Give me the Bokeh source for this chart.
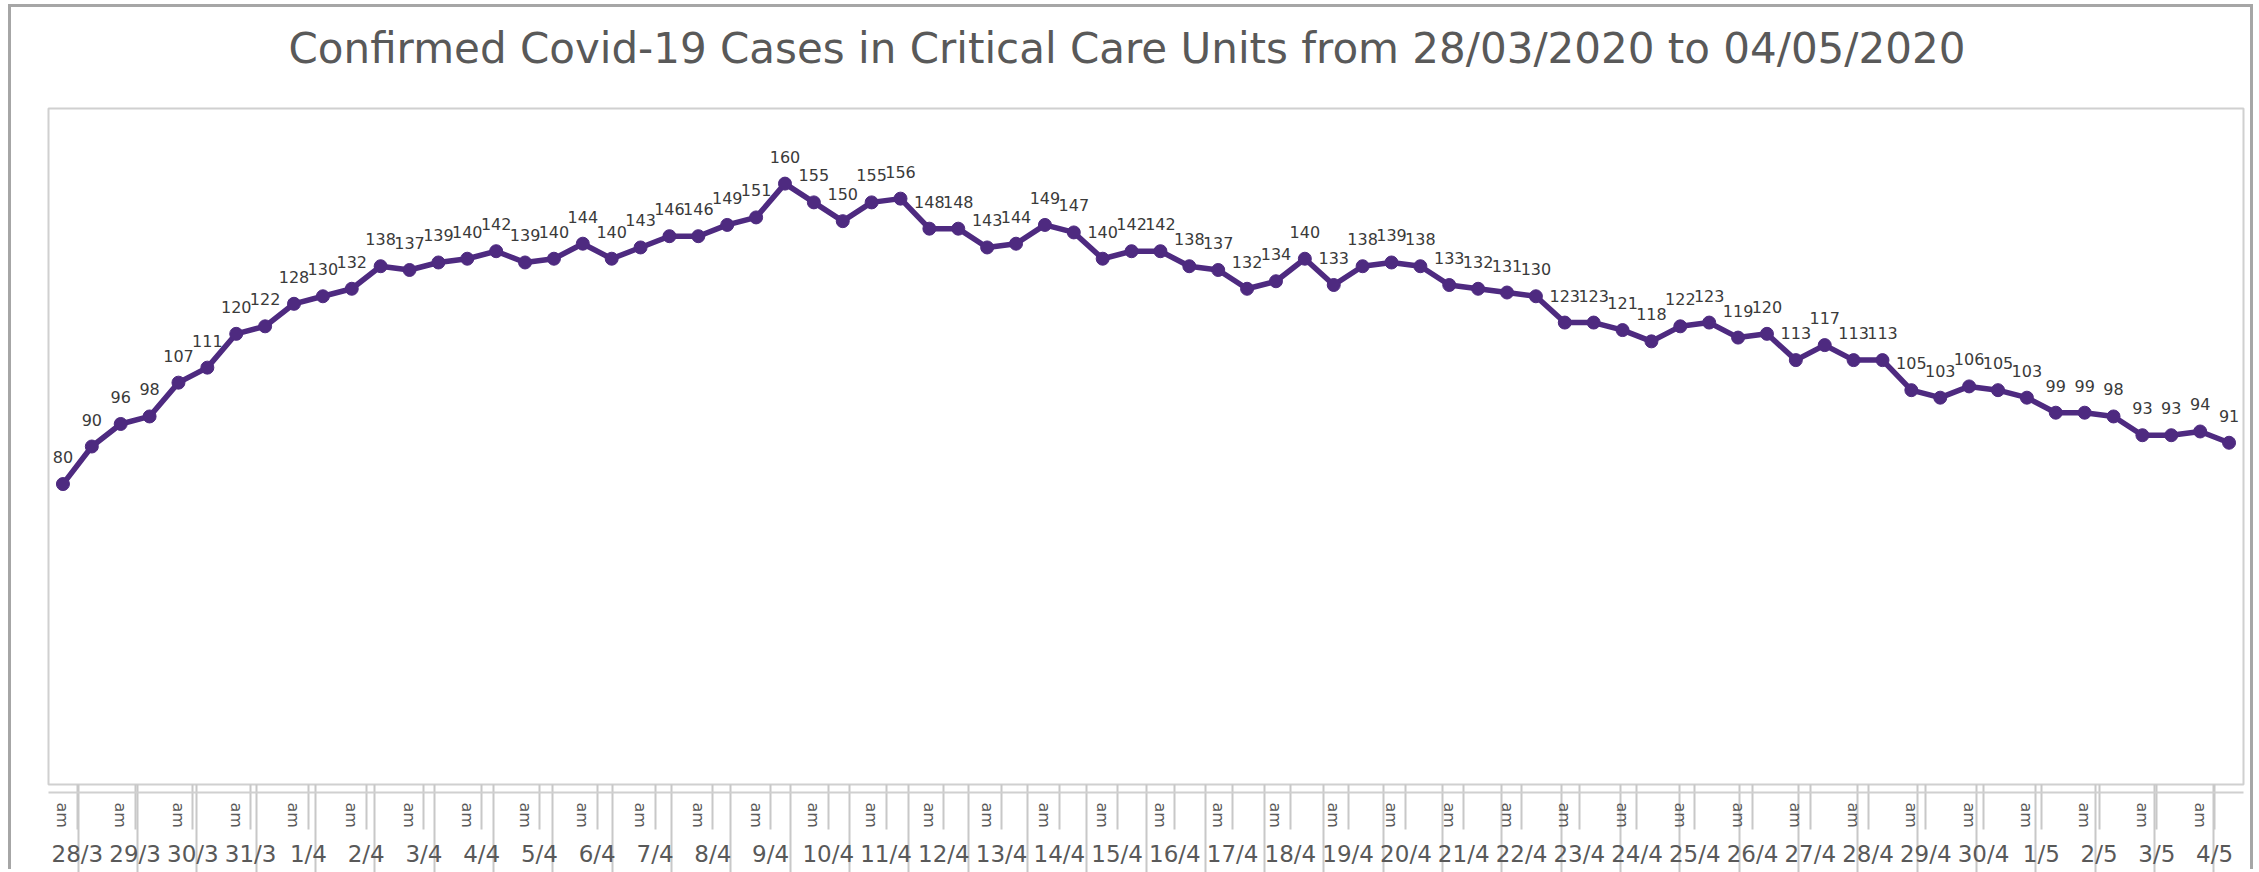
from bokeh.plotting import figure
from bokeh.models import (FactorRange, Range1d, CategoricalAxis, ColumnDataSource)
from bokeh.embed import file_html
from bokeh.resources import INLINE
from bokeh.core.properties import value

# ---- data ----
dates = ["28/3", "29/3", "30/3", "31/3",
         "1/4", "2/4", "3/4", "4/4", "5/4", "6/4", "7/4", "8/4", "9/4", "10/4",
         "11/4", "12/4", "13/4", "14/4", "15/4", "16/4", "17/4", "18/4", "19/4", "20/4",
         "21/4", "22/4", "23/4", "24/4", "25/4", "26/4", "27/4", "28/4", "29/4", "30/4",
         "1/5", "2/5", "3/5", "4/5"]
# second slot of each day (pm) has no visible label in the original
slots = ["am", ""]
cases = [80, 90, 96, 98, 107, 111, 120, 122, 128, 130,
         132, 138, 137, 139, 140, 142, 139, 140, 144, 140,
         143, 146, 146, 149, 151, 160, 155, 150, 155, 156,
         148, 148, 143, 144, 149, 147, 140, 142, 142, 138,
         137, 132, 134, 140, 133, 138, 139, 138, 133, 132,
         131, 130, 123, 123, 121, 118, 122, 123, 119, 120,
         113, 117, 113, 113, 105, 103, 106, 105, 103, 99,
         99, 98, 93, 93, 94, 91]
title_text = "Confirmed Covid-19 Cases in Critical Care Units from 28/03/2020 to 04/05/2020"

factors = [(d, s) for d in dates for s in slots]
src = ColumnDataSource(dict(x=factors, y=cases, label=[str(v) for v in cases]))

LINE = "#4E2A80"
GRID = "#c8c8c8"
TXT = "#595959"

p = figure(
    x_range=FactorRange(*factors, factor_padding=0, subgroup_padding=0,
                        group_padding=0, range_padding=0),
    y_range=Range1d(0, 180),
    width=2239, height=865,
    output_backend="svg", toolbar_location=None,
    min_border_left=37, min_border_right=7, min_border_top=101, min_border_bottom=88,
)
p.margin = (7, 0, 0, 11)
p.styles = {"box-shadow": "-3px -3px 0 0 #a6a6a6, 3px -3px 0 0 #a6a6a6"}

p.title.text = title_text
p.title.text_font = "DejaVu Sans"
p.title.text_font_size = "42px"
p.title.text_font_style = "normal"
p.title.text_color = TXT
p.title.align = "left"
p.title.offset = 240
p.title.standoff = 10

p.outline_line_color = "#d0d0d0"
p.outline_line_width = 2
p.xgrid.visible = False
p.ygrid.visible = False
p.yaxis.visible = False

cat_axis = p.xaxis[0]
cat_axis.major_tick_line_color = None
cat_axis.major_tick_in = 0
cat_axis.major_tick_out = 0
cat_axis.axis_line_color = "#d0d0d0"
cat_axis.axis_line_width = 2
cat_axis.separator_line_color = None
cat_axis.major_label_orientation = "vertical"
cat_axis.major_label_text_font = "DejaVu Sans"
cat_axis.major_label_text_font_size = "16px"
cat_axis.major_label_text_color = TXT
cat_axis.major_label_standoff = 10
cat_axis.group_text_font = "DejaVu Sans"
cat_axis.group_text_font_size = "23px"
cat_axis.group_text_font_style = "normal"
cat_axis.group_text_color = TXT

# cell lines of the two-level category axis:
# short lines sit at the middle of each day (am | pm),
# long lines sit on the day boundaries.
edge_ids = ["edge%d" % i for i in range(len(dates) + 1)]
p.extra_x_ranges = {
    "days": FactorRange(*dates, range_padding=0),
    "edges": FactorRange(*edge_ids, range_padding=-1, range_padding_units="absolute"),
}


def cell_axis(range_name, length, room=0, color=GRID):
    return CategoricalAxis(
        x_range_name=range_name,
        major_tick_in=-length, major_tick_out=room,
        major_tick_line_color=color, major_tick_line_width=2,
        axis_line_color=None, separator_line_color=None,
        major_label_text_font_size="0px", major_label_text_color=None,
        major_label_standoff=0,
    )


# order from the frame outwards: short lines, long lines, empty room, labels
p.below.insert(0, cell_axis("days", 0, room=8, color=None))
p.below.insert(0, cell_axis("edges", 92))
p.below.insert(0, cell_axis("days", 45))
# empty room between the plot area and the title
p.above.insert(0, cell_axis("days", 0, room=31, color=None))

p.line("x", "y", source=src, line_color=LINE, line_width=5.5)
p.scatter("x", "y", source=src, size=13, fill_color=LINE, line_color=LINE)
p.text("x", "y", text="label", source=src, text_align="center",
       text_baseline="alphabetic", y_offset=-27,
       text_font=value("DejaVu Sans"), text_font_size="16px", text_color="#3a3a3a")

open("out.html", "w").write(file_html(p, INLINE))
